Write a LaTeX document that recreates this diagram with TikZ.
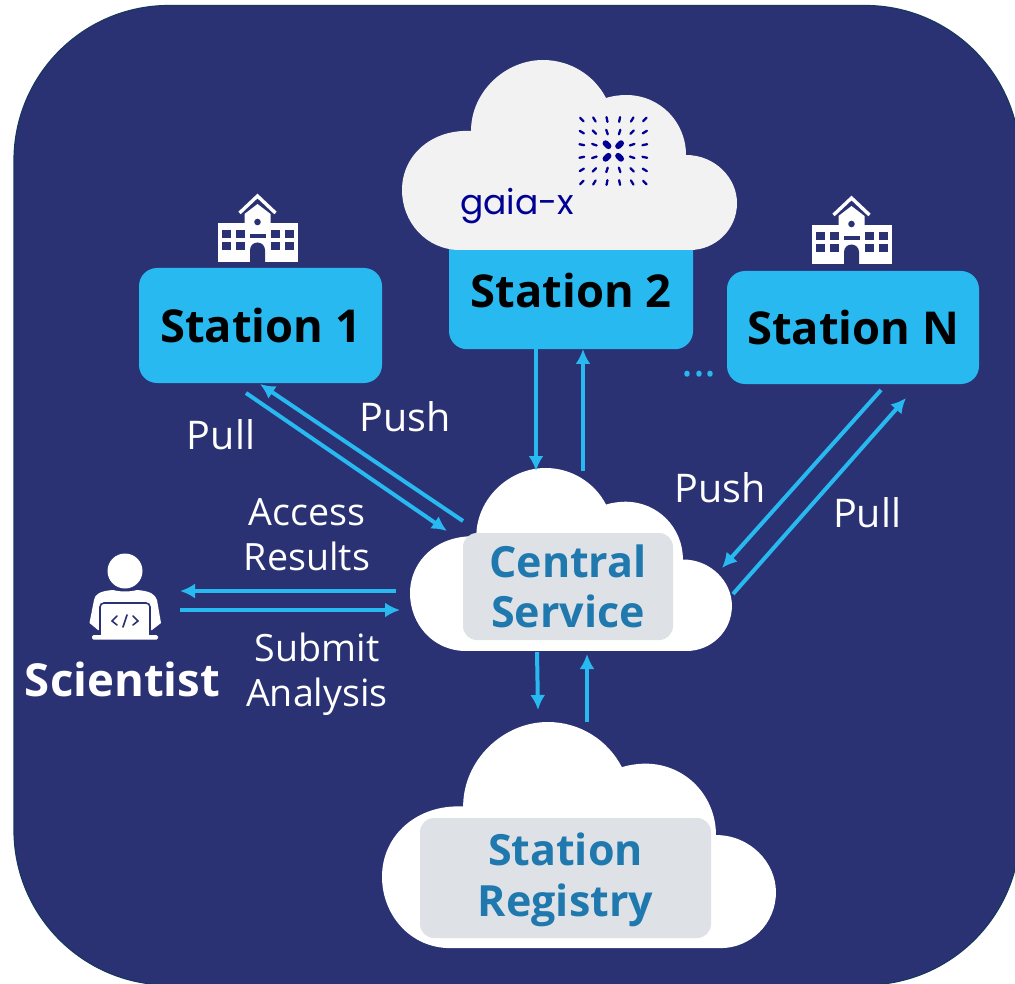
\documentclass[tikz,border=0pt]{standalone}
\usepackage{fontspec}
\setmainfont{Open Sans}
\newfontfamily\gaiafont{Poppins}
\definecolor{bgnavy}{HTML}{2A3274}
\definecolor{bgedge}{HTML}{17375E}
\definecolor{sky}{HTML}{27B9F0}
\definecolor{greybox}{HTML}{DEE2E6}
\definecolor{bluetext}{HTML}{1F78AE}
\definecolor{gaiablue}{HTML}{000094}
\newcommand{\cloudpath}{(460,250) .. controls (426,250) and (402,222) .. (402,190)
 .. controls (402,155) and (432,129) .. (471,131)
 .. controls (471,92) and (505,60) .. (543,60)
 .. controls (570,60) and (594,75) .. (606,98)
 .. controls (612,96) and (620,95) .. (626,95)
 .. controls (660,95) and (686,122) .. (686,155)
 .. controls (715,155) and (737,178) .. (737,203)
 .. controls (737,230) and (715,250) .. (690,250) -- cycle}
\tikzset{
 x=1pt,y=-1pt,
 stationbox/.style={fill=sky,rounded corners=18pt,inner sep=0pt,font=\fontsize{45.3}{50}\selectfont\bfseries,text=black},
 greyrect/.style={fill=greybox,rounded corners=14pt,inner sep=0pt,align=center,text=bluetext,font=\fontsize{43}{50.5}\selectfont\bfseries},
 lbl/.style={text=white,align=center,inner sep=0pt,font=\fontsize{39.5}{45}\selectfont},
 lbltwo/.style={text=white,align=center,inner sep=0pt,font=\fontsize{37.6}{45}\selectfont},
 flow/.style={draw=sky,line width=4pt,-{Latex[length=15pt,width=15pt]}},
 school/.pic={
  % origin at the building's top centre
  \fill[white] (-40,0) rectangle (40,39);
  \fill[white] (-13,3) -- (-13,-9) -- (0,-19) -- (13,-9) -- (13,3) -- cycle;
  \draw[white,line width=3.4pt,line join=miter] (-18,-10) -- (0,-27) -- (18,-10);
  \fill[bgnavy] (0,-1) circle (3.3);
  \foreach \xa in {-36,-22,13.5,27}{
   \foreach \ya in {7,19.5}{
    \fill[bgnavy] (\xa,\ya) rectangle ++(9,8);}}
  \fill[bgnavy] (-8,11) rectangle (8,15.5);
  \fill[bgnavy] (-7.5,39) -- (-7.5,27) arc[start angle=180,end angle=360,radius=7.5] -- (7.5,39) -- cycle;
 }
}
\usetikzlibrary{arrows.meta}
\begin{document}
\begin{tikzpicture}
\useasboundingbox (0,0) rectangle (1015,984);
\clip (0,0) rectangle (1015,984);
\fill[white] (0,0) rectangle (1015,984);
\draw[fill=bgnavy,draw=bgedge,line width=1.2pt,rounded corners=155pt] (14,5.5) rectangle (1020,985);

% stations
\node[stationbox,minimum width=243pt,minimum height=115pt] (st1) at (260.5,325.5) {Station 1};
\node[stationbox,minimum width=244pt,minimum height=140pt,anchor=north,text depth=0pt] (st2) at (571,209) {};
\node[font=\fontsize{45.3}{50}\selectfont\bfseries,inner sep=0pt] (st2t) at (571,291) {Station 2};
\node[stationbox,minimum width=252pt,minimum height=113pt] (stN) at (853,327.5) {Station N};
\pic at (257.5,223) {school};
\pic at (851.5,225) {school};

% gaia-x cloud
\fill[fill=white!95!black] \cloudpath;
\node[inner sep=0pt,text=gaiablue,font=\gaiafont\fontsize{34.5}{36}\selectfont] (gaia) at (517,206) {gaia-x};
\foreach \cx in {-2.5,-1.5,-0.5,0.5,1.5,2.5}{
 \foreach \cy in {-2.5,-1.5,-0.5,0.5,1.5,2.5}{
  \pgfmathsetmacro{\rad}{veclen(\cx,\cy)}
  \ifdim\rad pt<1pt
   \draw[gaiablue,line width=6pt,line cap=round] ({613.3+12.6*\cx-2*\cx/\rad},{151+12.6*\cy-2*\cy/\rad}) -- ({613.3+12.6*\cx+2*\cx/\rad},{151+12.6*\cy+2*\cy/\rad});
  \else
   \draw[gaiablue,line width=2.3pt,line cap=round] ({613.3+12.6*\cx-2.4*\cx/\rad},{151+12.6*\cy-2.4*\cy/\rad}) -- ({613.3+12.6*\cx+2.4*\cx/\rad},{151+12.6*\cy+2.4*\cy/\rad});
  \fi
 }}

% central service cloud
\begin{scope}[shift={(410,468)},xscale=.961,yscale=.963,shift={(-402,-60)}]
\fill[white] \cloudpath;
\end{scope}
\node[greyrect,minimum width=210pt,minimum height=107pt] (central) at (568,586.5) {Central\\Service};

% registry cloud
\begin{scope}[shift={(382,722)},xscale=1.176,yscale=1.19,shift={(-402,-60)}]
\fill[white] \cloudpath;
\end{scope}
\node[greyrect,minimum width=291pt,minimum height=120pt] (registry) at (565.5,878) {};
\node[inner sep=0pt,align=center,text=bluetext,font=\fontsize{43}{50.5}\selectfont\bfseries] (registryt) at (565.5,880) {Station\\Registry};

% scientist icon
\node[circle,fill=white,minimum size=35pt,inner sep=0pt] (head) at (125,571) {};
\fill[white] (89.5,623) -- (94,600) .. controls (95,594) and (100,591) .. (113,590) .. controls (120,592) and (130,592) .. (137,590) .. controls (150,591) and (155,594) .. (157,600) -- (161,623) -- (152,630) -- (98,630) -- cycle;
\draw[bgnavy,line width=1.6pt,fill=white,rounded corners=4pt] (100,635) -- (100,603) -- (150,603) -- (150,635);
\fill[white,rounded corners=1.5pt] (92,635) rectangle (158,639.5);
\draw[bgnavy,line width=1.6pt,line cap=round] (117,616) -- (112,621) -- (117,625) (133,616) -- (138,621) -- (133,625) (127,615) -- (123,627);
\node[inner sep=0pt,text=white,font=\fontsize{45.5}{50}\selectfont\bfseries] (sci) at (122.5,679) {Scientist};

% named free ends of connectors
\coordinate (a1) at (246,393); \coordinate (a2) at (447,531);
\coordinate (b1) at (463,521); \coordinate (b2) at (260,384);
\coordinate (c1) at (536,349); \coordinate (c2) at (536,471);
\coordinate (d1) at (583,471); \coordinate (d2) at (583,349);
\coordinate (e1) at (881,390); \coordinate (e2) at (722,568);
\coordinate (f1) at (733,594); \coordinate (f2) at (906,398);
\coordinate (g1) at (396,591); \coordinate (g2) at (180,591);
\coordinate (h1) at (180,610); \coordinate (h2) at (400,610);
\coordinate (i1) at (537,652); \coordinate (i2) at (538,710);
\coordinate (j1) at (587,722); \coordinate (j2) at (587,654);
\foreach \p/\q in {a1/a2,b1/b2,c1/c2,d1/d2,e1/e2,f1/f2,g1/g2,h1/h2,i1/i2,j1/j2}
 \draw[flow] (\p) -- (\q);

% labels
\node[lbl] (l1) at (221,435) {Pull};
\node[lbl] (l2) at (405,417) {Push};
\node[lbl] (l3) at (720,488) {Push};
\node[lbl] (l4) at (867,513) {Pull};
\node[lbltwo] (l5) at (307,535) {Access\\Results};
\node[lbltwo] (l6) at (317,674) {Submit\\Analysis};
\node[inner sep=0pt,text=sky,font=\fontsize{45}{50}\selectfont] (dots) at (699,374.5) {...};
\end{tikzpicture}
\end{document}
